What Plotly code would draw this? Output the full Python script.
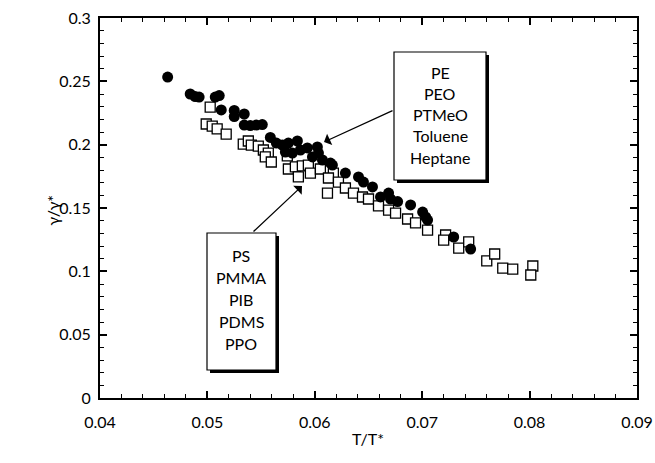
import plotly.graph_objects as go

# Filled circles: PE, PEO, PTMeO, Toluene, Heptane
circ_x = [0.04630, 0.04840, 0.04886, 0.04923, 0.05073, 0.05110, 0.05129, 0.05250, 0.05250,
          0.05343, 0.05343, 0.05399, 0.05455, 0.05511, 0.05586, 0.05698, 0.05754, 0.05838,
          0.05866, 0.05931, 0.06024, 0.06034, 0.05791, 0.06071, 0.06164, 0.06285, 0.06407,
          0.06453, 0.06537, 0.06612, 0.06687, 0.06705, 0.06771, 0.06892, 0.07004, 0.07032,
          0.07050, 0.07293, 0.07451, 0.05726, 0.05978, 0.06146, 0.05642]
circ_y = [0.2534, 0.2400, 0.2380, 0.2376, 0.2376, 0.2388, 0.2274, 0.2270, 0.2222,
          0.2242, 0.2155, 0.2151, 0.2155, 0.2159, 0.2057, 0.1997, 0.2013, 0.2029,
          0.1958, 0.1974, 0.1982, 0.1934, 0.1934, 0.1879, 0.1839, 0.1776, 0.1745,
          0.1705, 0.1666, 0.1587, 0.1618, 0.1571, 0.1551, 0.1524, 0.1468, 0.1429,
          0.1405, 0.1271, 0.1176, 0.1942, 0.1903, 0.1855, 0.2013]

# Open squares: PS, PMMA, PIB, PDMS, PPO
sq_x = [0.05026, 0.04989, 0.05045, 0.05091, 0.05175, 0.05334, 0.05381, 0.05409, 0.05474,
        0.05521, 0.05567, 0.05539, 0.05595, 0.05744, 0.05754, 0.05819, 0.05884, 0.05940,
        0.05959, 0.05847, 0.06052, 0.06173, 0.06127, 0.06220, 0.06285, 0.06360, 0.06444,
        0.06500, 0.06118, 0.06593, 0.06687, 0.06752, 0.06864, 0.06938, 0.07050, 0.07218,
        0.07200, 0.07340, 0.07433, 0.07601, 0.07675, 0.07750, 0.07843, 0.08030, 0.08011]
sq_y = [0.2297, 0.2163, 0.2147, 0.2124, 0.2084, 0.2005, 0.2029, 0.1997, 0.1989,
        0.1958, 0.1934, 0.1903, 0.1863, 0.1911, 0.1808, 0.1824, 0.1832, 0.1839,
        0.1776, 0.1745, 0.1808, 0.1776, 0.1737, 0.1705, 0.1658, 0.1618, 0.1587,
        0.1571, 0.1618, 0.1516, 0.1484, 0.1460, 0.1413, 0.1382, 0.1326, 0.1287,
        0.1247, 0.1184, 0.1232, 0.1082, 0.1137, 0.1026, 0.1018, 0.1042, 0.0971]

group_top = ["PE", "PEO", "PTMeO", "Toluene", "Heptane"]
group_bottom = ["PS", "PMMA", "PIB", "PDMS", "PPO"]

x_ticks = [0.04, 0.05, 0.06, 0.07, 0.08, 0.09]
y_ticks = [0, 0.05, 0.1, 0.15, 0.2, 0.25, 0.3]

x_title = "T/T*"
y_title = "γ/γ*"

FONT = "Lato, Open Sans, sans-serif"
W, H = 655, 463

# pixel -> data helpers (plot area: x 100..637, y 18..398)
L, R, T, B = 100, 637, 18, 398
def dx(px):
    return 0.04 + (px - L) / (R - L) * 0.05
def dy(py):
    return (B - py) / (B - T) * 0.3
def px_paper(px):
    return (px - L) / (R - L)
def py_paper(py):
    return (B - py) / (B - T)

fig = go.Figure()
fig.add_trace(go.Scatter(x=sq_x, y=sq_y, mode="markers",
                         marker=dict(symbol="square", size=10, color="white",
                                     line=dict(width=1.3, color="black")),
                         showlegend=False))
fig.add_trace(go.Scatter(x=circ_x, y=circ_y, mode="markers",
                         marker=dict(symbol="circle", size=11, color="black",
                                     line=dict(width=0)),
                         showlegend=False))

shapes = []
def box(l, t, r, b):
    shapes.append(dict(type="rect", xref="x", yref="y", x0=dx(l + 3), x1=dx(r + 3),
                       y0=dy(b + 3), y1=dy(t + 3), fillcolor="black",
                       line=dict(width=0), layer="above"))
    shapes.append(dict(type="rect", xref="x", yref="y", x0=dx(l), x1=dx(r),
                       y0=dy(b), y1=dy(t), fillcolor="white",
                       line=dict(width=1.2, color="black"), layer="above"))

box(394, 52, 486, 180)
box(207, 233, 276, 370)

annotations = []
cx1 = dx(440)
for i, name in enumerate(group_top):
    annotations.append(dict(x=cx1, y=dy(72 + i * 21.3), xref="x", yref="y", text=name,
                            showarrow=False, font=dict(family=FONT, size=16, color="black")))
cx2 = dx(241)
for i, name in enumerate(group_bottom):
    annotations.append(dict(x=cx2, y=dy(255 + i * 22.2), xref="x", yref="y", text=name,
                            showarrow=False, font=dict(family=FONT, size=16, color="black")))

annotations.append(dict(x=dx(324), y=dy(142), ax=dx(394), ay=dy(110), xref="x", yref="y",
                        axref="x", ayref="y", text="", showarrow=True, arrowhead=1,
                        arrowsize=1.6, arrowwidth=1.3, arrowcolor="black"))
annotations.append(dict(x=dx(302), y=dy(186), ax=dx(252), ay=dy(233), xref="x", yref="y",
                        axref="x", ayref="y", text="", showarrow=True, arrowhead=1,
                        arrowsize=1.6, arrowwidth=1.3, arrowcolor="black"))

# axis titles
annotations.append(dict(x=px_paper(368), y=py_paper(450), xref="paper", yref="paper",
                        text=x_title, showarrow=False,
                        font=dict(family=FONT, size=16, color="black")))
annotations.append(dict(x=px_paper(40), y=py_paper(210), xref="paper", yref="paper",
                        text=y_title, textangle=-90, showarrow=False,
                        font=dict(family=FONT, size=16, color="black")))

fig.update_layout(
    width=W, height=H,
    margin=dict(l=L, r=W - R, t=T, b=H - B),
    paper_bgcolor="white", plot_bgcolor="white",
    font=dict(family=FONT, size=16, color="black"),
    shapes=shapes, annotations=annotations,
    showlegend=False,
)
fig.update_xaxes(range=[0.04, 0.09], tickvals=x_ticks,
                 ticktext=[f"{v:g}" for v in x_ticks],
                 ticks="inside", ticklen=7, tickwidth=1.5, tickcolor="black",
                 ticklabelstandoff=9, automargin=False,
                 minor=dict(dtick=0.002, tick0=0.04, ticks="inside", ticklen=4,
                            tickwidth=1.2, tickcolor="black"),
                 showline=True, linewidth=2, linecolor="black", mirror="allticks",
                 showgrid=False, zeroline=False,
                 tickfont=dict(family=FONT, size=16))
fig.update_yaxes(range=[0, 0.3], tickvals=y_ticks,
                 ticktext=[f"{v:g}" for v in y_ticks],
                 ticks="inside", ticklen=7, tickwidth=1.5, tickcolor="black",
                 ticklabelstandoff=4, automargin=False,
                 minor=dict(dtick=0.01, tick0=0, ticks="inside", ticklen=4,
                            tickwidth=1.2, tickcolor="black"),
                 showline=True, linewidth=2, linecolor="black", mirror="allticks",
                 showgrid=False, zeroline=False,
                 tickfont=dict(family=FONT, size=16))

fig.write_html("out.html")
